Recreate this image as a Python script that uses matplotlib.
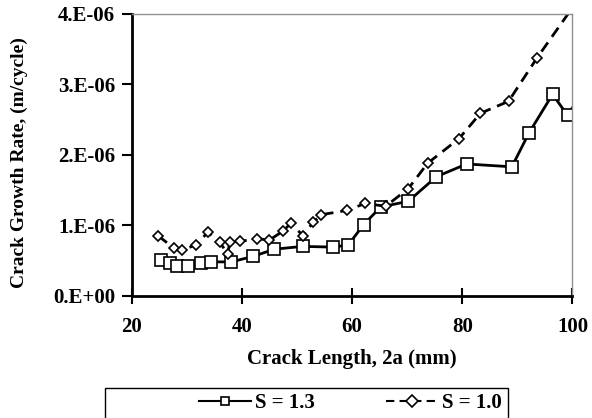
import numpy as np
import matplotlib
matplotlib.use('Agg')
import matplotlib.pyplot as plt
from matplotlib.ticker import FuncFormatter
from matplotlib.patches import Rectangle

# S = 1.3 (squares, solid)
crack_13 = [25.3, 27.0, 28.3, 30.2, 32.5, 34.4, 38.1, 42.1, 45.9, 51.0, 56.5,
            59.3, 62.1, 65.2, 70.2, 75.3, 80.8, 89.0, 92.1, 96.4, 99.1, 101.5]
rate_13 = [0.50, 0.46, 0.42, 0.42, 0.47, 0.48, 0.48, 0.56, 0.66, 0.70, 0.69,
           0.72, 1.01, 1.26, 1.34, 1.69, 1.87, 1.83, 2.31, 2.86, 2.56, 2.85]

# S = 1.0 (diamonds, dashed)
crack_10 = [24.8, 27.6, 29.1, 31.7, 33.8, 36.0, 37.4, 37.8, 39.7, 42.7, 45.0,
            47.5, 48.9, 51.1, 52.9, 54.4, 59.0, 62.4, 66.1, 70.2, 73.7, 79.4,
            83.3, 88.4, 93.6, 101.0]
rate_10 = [0.85, 0.68, 0.65, 0.72, 0.90, 0.76, 0.59, 0.76, 0.77, 0.81, 0.79,
           0.92, 1.03, 0.85, 1.04, 1.15, 1.21, 1.31, 1.27, 1.52, 1.88, 2.23,
           2.59, 2.76, 3.38, 4.20]

x_ticks = [20, 40, 60, 80, 100]
y_ticks = [0, 1e-6, 2e-6, 3e-6, 4e-6]

plt.rcParams['font.family'] = 'Liberation Serif'
plt.rcParams['font.weight'] = 'bold'

fig = plt.figure(figsize=(5.92, 4.18), dpi=100)
ax = fig.add_axes([0.2225, 0.2926, 0.7445, 0.674])

ax.plot(crack_13, np.array(rate_13) * 1e-6, '-', color='black', lw=2,
        marker='s', ms=8, mfc='white', mec='black', mew=1.2, label='S = 1.3')
ax.plot(crack_10, np.array(rate_10) * 1e-6, color='black', lw=2, ls=(0, (4, 2.5)),
        marker='D', ms=5.5, mfc='white', mec='black', mew=1.2, label='S = 1.0')

ax.set_xlim(20, 100)
ax.set_ylim(0, 4e-6)
ax.set_xticks(x_ticks)
ax.set_yticks(y_ticks)
ax.yaxis.set_major_formatter(FuncFormatter(
    lambda v, p: '%d.E%s' % (round(v * 1e6), '+00' if v == 0 else '-06')))

for s in ['top', 'right']:
    ax.spines[s].set_color('#909090')
    ax.spines[s].set_linewidth(1)
for s in ['left', 'bottom']:
    ax.spines[s].set_linewidth(2)
ax.tick_params(axis='y', direction='out', length=7, width=1.5, labelsize=15, pad=5)
ax.tick_params(axis='x', direction='inout', length=12, width=1.5, labelsize=15, pad=9)
for lab in ax.get_xticklabels() + ax.get_yticklabels():
    lab.set_fontweight('bold')

ax.set_xlabel('Crack Length, 2a (mm)', fontsize=15, fontweight='bold')
ax.set_ylabel('Crack Growth Rate, (m/cycle)', fontsize=14, fontweight='bold')
ax.xaxis.set_label_coords(0.5, -0.19)
ax.yaxis.set_label_coords(-0.235, 0.473)

# legend box runs off the bottom edge, as in the original
fig.patches.append(Rectangle((0.178, -0.05), 0.68, 0.05 + 0.0718,
                             transform=fig.transFigure, fill=False,
                             edgecolor='black', lw=1))
leg = fig.legend(loc='center', bbox_to_anchor=(0.592, 0.036), ncol=2,
                 frameon=False, prop={'weight': 'bold', 'size': 15},
                 handlelength=2.5, handletextpad=0.2, columnspacing=3.4,
                 borderaxespad=0)
for h in leg.legend_handles:
    h.set_markersize(6)
    h.set_linewidth(1.5)

fig.savefig('out.png', dpi=100)
